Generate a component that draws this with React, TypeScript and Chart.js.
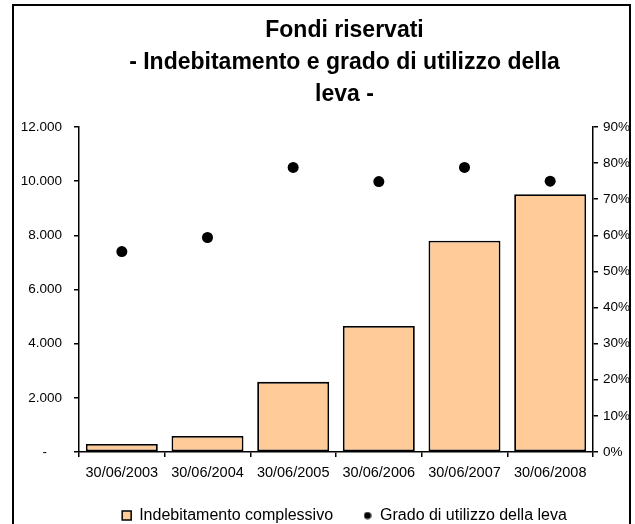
import React, { useEffect, useRef } from "react";
import { Chart, registerables } from "chart.js";

Chart.register(...registerables);

const categories = ["30/06/2003", "30/06/2004", "30/06/2005", "30/06/2006", "30/06/2007", "30/06/2008"];
const indebitamento = [295, 590, 2590, 4650, 7800, 9520];
const gradoLeva = [55.5, 59.4, 78.8, 74.9, 78.8, 75.0];
const titleLines = ["Fondi riservati", "- Indebitamento e grado di utilizzo della", "leva -"];
const seriesNames = ["Indebitamento complessivo", "Grado di utilizzo della leva"];

const FONT = "'Liberation Sans', Arial, Helvetica, sans-serif";
const W = 635;
const H = 524;
const PAD_BOTTOM = -9.5;
const BLOCK_CENTER = 344.5;

function formatThousands(v: number): string {
  if (v === 0) return "-    ";
  return String(v).replace(/\B(?=(\d{3})+(?!\d))/g, ".");
}

export default function App() {
  const ref = useRef<HTMLCanvasElement | null>(null);

  useEffect(() => {
    if (!ref.current) return;

    const dot = document.createElement("canvas");
    dot.width = 8;
    dot.height = 8;
    const dctx = dot.getContext("2d");
    if (dctx) {
      dctx.fillStyle = "#000";
      dctx.beginPath();
      dctx.arc(4, 4, 3.6, 0, Math.PI * 2);
      dctx.fill();
    }

    const framePlugin = {
      id: "frame",
      afterLayout(chart: any) {
        [chart.titleBlock, chart.legend].forEach((b: any) => {
          if (!b) return;
          const d = BLOCK_CENTER - (b.left + b.right) / 2;
          b.left += d;
          b.right += d;
        });
      },
      afterDraw(chart: any) {
        const ctx = chart.ctx;
        ctx.save();
        ctx.fillStyle = "#fff";
        ctx.fillRect(631, 0, 10, H);
        ctx.strokeStyle = "#000";
        ctx.lineWidth = 2;
        ctx.strokeRect(13, 5, 617, 600);
        ctx.restore();
      },
    };

    const chart = new Chart(ref.current, {
      type: "bar",
      data: {
        labels: categories,
        datasets: [
          {
            type: "bar",
            label: seriesNames[0],
            data: indebitamento,
            backgroundColor: "#FFCC99",
            borderColor: "#000",
            borderWidth: 1.8,
            borderSkipped: false,
            yAxisID: "y",
            categoryPercentage: 1,
            barPercentage: 0.84,
            pointStyle: "rect",
          } as any,
          {
            type: "line",
            label: seriesNames[1],
            data: gradoLeva,
            showLine: false,
            pointRadius: 5.5,
            pointHoverRadius: 5.5,
            pointBackgroundColor: "#000",
            pointBorderColor: "#000",
            pointBorderWidth: 0,
            backgroundColor: "#000",
            borderColor: "#000",
            yAxisID: "y1",
          } as any,
        ],
      },
      plugins: [framePlugin],
      options: {
        responsive: false,
        animation: false,
        events: [],
        layout: { padding: { left: 0, right: 0, top: 0, bottom: PAD_BOTTOM } },
        plugins: {
          tooltip: { enabled: false },
          title: {
            display: true,
            text: titleLines,
            color: "#000",
            font: { family: FONT, size: 23, weight: "bold", lineHeight: 32 / 23 },
            padding: { top: 15, bottom: 16 },
          },
          legend: {
            display: true,
            position: "bottom",
            labels: {
              color: "#000",
              font: { family: FONT, size: 16 },
              usePointStyle: true,
              boxWidth: 9,
              boxHeight: 9,
              padding: 30,
              generateLabels(chart: any) {
                const items = Chart.defaults.plugins.legend.labels.generateLabels(chart);
                items.forEach((it: any, i: number) => {
                  if (i === 0) {
                    it.pointStyle = "rect";
                    it.fillStyle = "#FFCC99";
                    it.strokeStyle = "#000";
                    it.lineWidth = 1.5;
                  } else {
                    it.pointStyle = dot;
                  }
                });
                return items;
              },
            },
          },
        },
        scales: {
          x: {
            offset: true,
            grid: {
              offset: true,
              drawOnChartArea: false,
              drawTicks: true,
              tickLength: 5,
              color: "#000",
              lineWidth: 1.5,
            },
            border: { color: "#000", width: 1.5 },
            ticks: {
              color: "#000",
              font: { family: FONT, size: 14.5 },
              padding: 7,
              maxRotation: 0,
              autoSkip: false,
            },
            afterFit(scale: any) {
              const lh = scale.chart.legend ? scale.chart.legend.height : 56;
              scale.height = H - PAD_BOTTOM - lh - 452;
            },
          },
          y: {
            position: "left",
            min: 0,
            max: 12000,
            grid: {
              drawOnChartArea: false,
              drawTicks: true,
              tickLength: 5,
              color: "#000",
              lineWidth: 1.5,
            },
            border: { color: "#000", width: 1.5 },
            ticks: {
              stepSize: 2000,
              color: "#000",
              font: { family: FONT, size: 13.5 },
              padding: 12,
              callback: (v: any) => formatThousands(Number(v)),
            },
            afterFit(scale: any) {
              scale.width = 79;
            },
          },
          y1: {
            position: "right",
            min: 0,
            max: 90,
            grid: {
              drawOnChartArea: false,
              drawTicks: true,
              tickLength: 5,
              color: "#000",
              lineWidth: 1.5,
            },
            border: { color: "#000", width: 1.5 },
            ticks: {
              stepSize: 10,
              color: "#000",
              font: { family: FONT, size: 13.5 },
              padding: 5,
              callback: (v: any) => `${Math.round(Number(v))}%`,
            },
            afterFit(scale: any) {
              scale.width = W - 593;
            },
          },
        },
      } as any,
    });

    return () => {
      chart.destroy();
    };
  }, []);

  return (
    <div style={{ position: "fixed", left: 0, top: 0, width: W, height: H, background: "#fff" }}>
      <canvas ref={ref} width={W} height={H} style={{ display: "block", width: W, height: H }} />
    </div>
  );
}
